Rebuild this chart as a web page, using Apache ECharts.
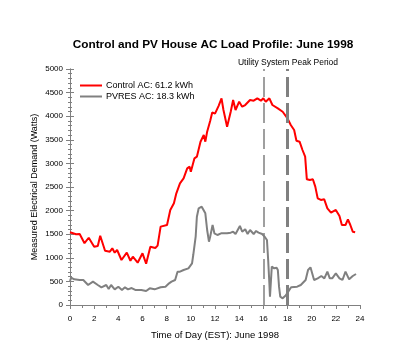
<!DOCTYPE html>
<html>
<head>
<meta charset="utf-8">
<script src="https://cdn.jsdelivr.net/npm/echarts@6/dist/echarts.min.js"></script>
<style>html,body{margin:0;padding:0;background:#fff}#c{width:396px;height:360px}</style>
</head>
<body>
<div id="c"></div>
<script>
// Control AC (red) : hour, watts
var controlHours = [0,0.5,0.8,1.2,1.55,2.0,2.3,2.5,2.9,3.3,3.5,3.7,3.9,4.26,4.7,5.0,5.2,5.6,6.0,6.3,6.65,7.06,7.25,7.5,8.03,8.3,8.6,8.8,9.1,9.4,9.7,9.9,10.0,10.3,10.5,10.8,11.07,11.2,11.35,11.6,11.77,12.0,12.3,12.54,12.7,13.0,13.3,13.5,13.7,14.0,14.25,14.5,14.9,15.2,15.5,15.8,16.0,16.2,16.5,16.75,17.2,17.6,18.0,18.27,18.55,18.74,19.0,19.24,19.46,19.6,19.85,20.1,20.3,20.5,20.76,21.04,21.3,21.6,22.0,22.3,22.5,22.8,23.0,23.2,23.4,23.6];
var controlWatts = [1540,1500,1505,1310,1425,1235,1250,1468,1150,1130,1200,1108,1165,953,1108,938,1023,896,1095,875,1235,1208,1257,1660,1695,2013,2155,2366,2578,2684,2896,2930,2824,3108,3142,3460,3602,3460,3672,3900,4080,4055,4220,4379,4131,3777,4095,4343,4131,4307,4202,4237,4343,4329,4379,4329,4379,4307,4379,4237,4167,4095,3955,3814,3708,3481,3460,3284,3142,2663,2648,2663,2507,2260,2225,2239,2048,1956,2013,1886,1695,1695,1815,1695,1553,1540];
// PVRES AC (gray)
var pvresHours = [0,0.1,0.35,0.8,1.1,1.5,1.9,2.3,2.6,3.0,3.2,3.4,3.7,4.0,4.3,4.55,4.8,5.1,5.4,5.9,6.3,6.6,7.0,7.5,7.9,8.0,8.2,8.4,8.7,8.9,9.1,9.4,9.8,10.1,10.2,10.4,10.5,10.65,10.9,11.2,11.35,11.5,11.6,11.8,11.95,12.2,12.5,13.0,13.3,13.5,13.7,14.06,14.25,14.5,14.7,14.9,15.2,15.4,15.6,15.9,16.1,16.3,16.4,16.5,16.55,16.7,16.9,17.1,17.2,17.3,17.4,17.6,17.85,18.1,18.3,18.8,19.1,19.2,19.5,19.7,19.9,20.2,20.5,20.8,21.05,21.3,21.5,21.7,22.0,22.3,22.55,22.8,23.1,23.4,23.67];
var pvresWatts = [508,578,544,530,530,424,494,424,375,424,339,424,332,388,318,375,332,360,318,318,297,353,332,375,388,375,459,494,530,706,706,742,777,883,1059,1447,1871,2048,2083,1942,1589,1341,1447,1695,1519,1483,1519,1519,1533,1553,1504,1674,1553,1604,1504,1589,1504,1568,1533,1504,1447,1377,953,459,177,812,777,791,742,388,177,141,200,300,375,388,424,388,530,742,798,530,565,614,565,706,565,565,671,565,530,706,544,614,657];
var seriesNames = ['Control AC: 61.2 kWh', 'PVRES AC: 18.3 kWh'];
var peakHours = [16, 18];
var xTicks = [0, 24, 2];
var yTicks = [0, 5000, 500];

function pairs(xs, ys){ return xs.map(function(x,i){ return [x, ys[i]]; }); }

var font = 'Arial, "Liberation Sans", sans-serif';
var axisGray = '#808080';
var chart = echarts.init(document.getElementById('c'), null, {renderer:'canvas'});
chart.setOption({
  animation: false,
  backgroundColor: '#fff',
  title: [{
    text: 'Control and PV House AC Load Profile: June 1998',
    left: 208, top: 34, textAlign: 'center',
    textStyle: {fontFamily: font, fontSize: 11.8, fontWeight: 'bold', color: '#000'}
  },{
    text: 'Utility System Peak Period',
    left: 283, top: 53, textAlign: 'center',
    textStyle: {fontFamily: font, fontSize: 8.5, fontWeight: 'normal', color: '#000'}
  }],
  legend: {
    orient: 'vertical', left: 75, top: 75, itemGap: 0,
    itemWidth: 22, itemHeight: 2, icon: 'rect',
    textStyle: {fontFamily: font, fontSize: 9, color: '#000', lineHeight: 11, padding: [0,0,0,-1]},
    data: seriesNames
  },
  grid: {left: 70, right: 36, top: 69, bottom: 55, containLabel: false},
  xAxis: [{
    type: 'value', min: xTicks[0], max: xTicks[1], interval: xTicks[2],
    name: 'Time of Day (EST): June 1998', nameLocation: 'middle', nameGap: 25, nameMoveOverlap: false,
    nameTextStyle: {fontFamily: font, fontSize: 9.5, color: '#000'},
    axisLine: {lineStyle: {color: axisGray, width: 1}},
    axisTick: {inside: false, length: 4, lineStyle: {color: axisGray}},
    minorTick: {show: true, splitNumber: 2, length: 3, lineStyle: {color: axisGray}},
    axisLabel: {fontFamily: font, fontSize: 8, color: '#000', margin: 10},
    splitLine: {show: false}
  },{
    type: 'value', position: 'top', min: xTicks[0], max: xTicks[1], interval: xTicks[2],
    axisLine: {show: true, lineStyle: {color: axisGray}},
    axisTick: {show: false}, axisLabel: {show: false}, splitLine: {show: false}
  }],
  yAxis: [{
    type: 'value', min: yTicks[0], max: yTicks[1], interval: yTicks[2],
    name: 'Measured Electrical Demand (Watts)', nameLocation: 'middle', nameGap: 31, nameRotate: 90, nameMoveOverlap: false,
    nameTextStyle: {fontFamily: font, fontSize: 9, color: '#000'},
    axisLine: {show: true, lineStyle: {color: axisGray}},
    axisTick: {show: true, length: 4, lineStyle: {color: axisGray}},
    minorTick: {show: true, splitNumber: 5, length: 2, lineStyle: {color: axisGray}},
    axisLabel: {fontFamily: font, fontSize: 8, color: '#000', margin: 7, formatter: function(v){ return String(v); }},
    splitLine: {show: false}
  },{
    type: 'value', position: 'right', min: yTicks[0], max: yTicks[1], interval: yTicks[2],
    axisLine: {show: true, lineStyle: {color: axisGray}},
    axisTick: {show: true, length: 4, lineStyle: {color: axisGray}},
    minorTick: {show: true, splitNumber: 5, length: 2, lineStyle: {color: axisGray}},
    axisLabel: {show: false}, splitLine: {show: false}
  }],
  series: [{
    name: seriesNames[0], type: 'line', data: pairs(controlHours, controlWatts),
    showSymbol: false, symbol: 'none', color: '#ff0000',
    lineStyle: {color: '#ff0000', width: 2}, z: 3
  },{
    name: seriesNames[1], type: 'line', data: pairs(pvresHours, pvresWatts),
    showSymbol: false, symbol: 'none', color: '#808080',
    lineStyle: {color: '#808080', width: 2}, z: 2,
    markLine: {
      silent: true, symbol: 'none', label: {show: false},
      data: [
        {xAxis: peakHours[0], lineStyle: {color: '#808080', width: 1.5, type: [20, 6]}},
        {xAxis: peakHours[1], lineStyle: {color: '#808080', width: 3, type: [20, 6]}}
      ]
    }
  }]
});
</script>
</body>
</html>
